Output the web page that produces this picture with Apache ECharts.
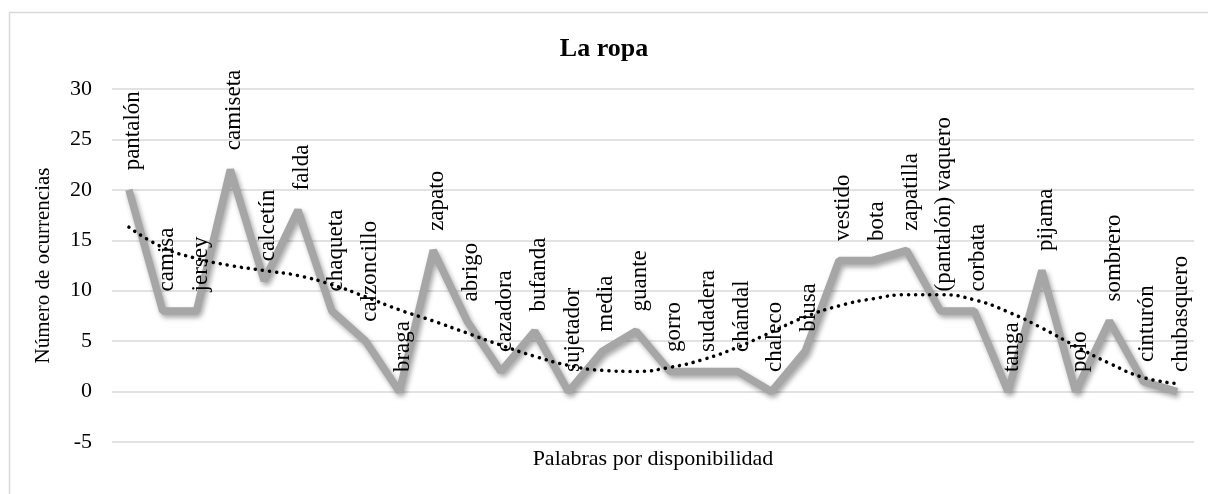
<!DOCTYPE html>
<html>
<head>
<meta charset="utf-8">
<script src="https://cdn.jsdelivr.net/npm/echarts@6/dist/echarts.min.js"></script>
<style>
html,body{margin:0;padding:0;background:#fff;}
#chart{width:1208px;height:494px;}
</style>
</head>
<body>
<div id="chart"></div>
<script>
const categories = ["pantalón","camisa","jersey","camiseta","calcetín","falda","chaqueta","calzoncillo","braga","zapato","abrigo","cazadora","bufanda","sujetador","media","guante","gorro","sudadera","chándal","chaleco","blusa","vestido","bota","zapatilla","(pantalón) vaquero","corbata","tanga","pijama","polo","sombrero","cinturón","chubasquero"];
const occurrences = [20,8,8,22,11,18,8,5,0,14,7,2,6,0,4,6,2,2,2,0,4,13,13,14,8,8,0,12,0,7,1,0];
const trendValues = [16.3,14.3,13.2,12.5,12.0,11.5,10.6,9.4,8.1,7.0,5.8,4.6,3.5,2.6,2.1,2.0,2.4,3.2,4.4,5.9,7.4,8.5,9.2,9.6,9.6,9.1,7.9,6.3,4.5,2.8,1.4,0.8];
const yTicks = {min:-5, max:30, interval:5};
const chartTitle = "La ropa";
const xName = "Palabras por disponibilidad";
const yName = "Número de ocurrencias";

const FONT = "'Liberation Serif','Times New Roman',serif";
const chart = echarts.init(document.getElementById('chart'));
chart.setOption({
  animation:false,
  backgroundColor:'#fff',
  graphic:[{type:'rect',shape:{x:9.5,y:12.5,width:1240,height:520},style:{fill:'none',stroke:'#d9d9d9',lineWidth:1.5},silent:true,z:-10}],
  title:{text:chartTitle,left:'center',top:31,textStyle:{fontFamily:FONT,fontSize:26,fontWeight:'bold',color:'#000'}},
  grid:{left:112,right:14,top:89,bottom:52},
  xAxis:{type:'category',data:categories,boundaryGap:true,
    axisLine:{show:false,onZero:false},axisTick:{show:false},axisLabel:{show:false},splitLine:{show:false},
    name:xName,nameLocation:'middle',nameGap:6,
    nameTextStyle:{fontFamily:FONT,fontSize:22,color:'#000',verticalAlign:'top'}},
  yAxis:{type:'value',min:yTicks.min,max:yTicks.max,interval:yTicks.interval,
    axisLine:{show:false},axisTick:{show:false},
    axisLabel:{fontFamily:FONT,fontSize:22,color:'#000',margin:20},
    splitLine:{lineStyle:{color:'#d9d9d9',width:1.5}},
    name:yName,nameLocation:'middle',nameGap:58,nameRotate:90,
    nameTextStyle:{fontFamily:FONT,fontSize:21,color:'#000'}},
  series:[
    {type:'line',data:occurrences,symbol:'circle',symbolSize:1,showSymbol:true,
      itemStyle:{color:'rgba(0,0,0,0)'},
      lineStyle:{color:'#a6a6a6',width:7.5,shadowColor:'rgba(0,0,0,0.35)',shadowBlur:5,shadowOffsetX:2,shadowOffsetY:3},
      label:{show:true,position:'top',distance:19,rotate:90,align:'left',verticalAlign:'middle',offset:[0,4],
        formatter:p=>categories[p.dataIndex],fontFamily:FONT,fontSize:23,color:'#000'},
      z:2},
    {type:'line',data:trendValues,smooth:true,symbol:'none',
      lineStyle:{color:'#000',width:3.5,type:[0.1,7],cap:'round'},z:3}
  ]
});
</script>
</body>
</html>
